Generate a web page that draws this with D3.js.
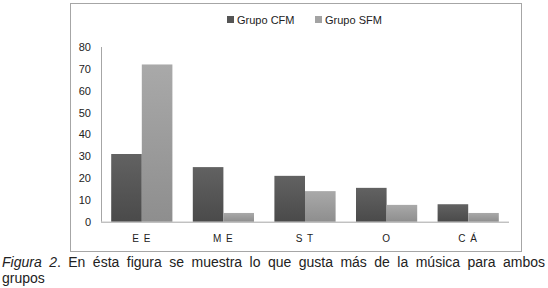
<!DOCTYPE html>
<html>
<head>
<meta charset="utf-8">
<script src="https://cdn.jsdelivr.net/npm/d3@7/dist/d3.min.js"></script>
<style>
  body { margin: 0; background: #fff; }
  #wrap { position: relative; width: 548px; height: 288px; }
  svg { position: absolute; left: 0; top: 0; }
  .caption { position: absolute; left: 2px; width: 543px; font-family: "Liberation Sans", Arial, sans-serif; font-size: 14px; color: #222; line-height: 16px; }
  .l1 { top: 254px; text-align: justify; text-align-last: justify; }
  .l2 { top: 270px; }
</style>
</head>
<body>
<div id="wrap">
  <div class="caption l1"><i>Figura 2</i>. En ésta figura se muestra lo que gusta más de la música para ambos</div>
  <div class="caption l2">grupos</div>
</div>
<script>
// datos
const categories = ["E E", "M E", "S T", "O", "C Á"];
const series = ["Grupo CFM", "Grupo SFM"];
const cfm = [31, 25, 21, 15.5, 8];
const sfm = [72, 4, 14, 7.7, 4];
const yTicks = [0, 10, 20, 30, 40, 50, 60, 70, 80];

const width = 548, height = 288;
const margin = {left: 101, right: 39, top: 47, bottom: 66};

const svg = d3.select("#wrap").append("svg")
    .attr("width", width)
    .attr("height", height);

const defs = svg.append("defs");
const grads = [["gCFM", "#626262", "#4a4a4a"], ["gSFM", "#a9a9a9", "#8e8e8e"]];
grads.forEach(([id, c1, c2]) => {
    const g = defs.append("linearGradient").attr("id", id)
        .attr("x1", 0).attr("y1", 0).attr("x2", 0).attr("y2", 1);
    g.append("stop").attr("offset", "0%").attr("stop-color", c1);
    g.append("stop").attr("offset", "100%").attr("stop-color", c2);
});

// marco exterior
svg.append("rect")
    .attr("x", 70.5).attr("y", 3.5)
    .attr("width", 451).attr("height", 248)
    .attr("fill", "none")
    .attr("stroke", "#a6a6a6");

const x = d3.scaleBand()
    .domain(categories)
    .range([margin.left, width - margin.right])
    .paddingInner(0.25)
    .paddingOuter(0.125);

const y = d3.scaleLinear()
    .domain([0, 80])
    .range([221.7, margin.top]);

const xSub = d3.scaleBand()
    .domain(series)
    .range([0, x.bandwidth()]);

// eje Y
svg.append("line")
    .attr("x1", margin.left + 0.5).attr("x2", margin.left + 0.5)
    .attr("y1", y(80)).attr("y2", y(0))
    .attr("stroke", "#a6a6a6");

svg.selectAll(".ytick")
    .data(yTicks)
    .join("text")
    .attr("class", "ytick")
    .attr("x", 91)
    .attr("y", d => y(d) + 4)
    .attr("text-anchor", "end")
    .attr("font-family", "Liberation Sans, Arial, sans-serif")
    .attr("font-size", 11)
    .attr("fill", "#222")
    .text(d => d);

// barras
const groups = svg.selectAll(".grp")
    .data(categories.map((c, i) => ({cat: c, vals: [cfm[i], sfm[i]]})))
    .join("g")
    .attr("class", "grp")
    .attr("transform", d => `translate(${x(d.cat)},0)`);

groups.selectAll("rect")
    .data(d => d.vals.map((v, j) => ({key: series[j], value: v})))
    .join("rect")
    .attr("x", d => xSub(d.key))
    .attr("y", d => y(d.value))
    .attr("width", xSub.bandwidth())
    .attr("height", d => y(0) - y(d.value))
    .attr("fill", (d, j) => j === 0 ? "url(#gCFM)" : "url(#gSFM)");

// linea base
svg.append("line")
    .attr("x1", margin.left).attr("x2", width - margin.right)
    .attr("y1", y(0) + 0.5).attr("y2", y(0) + 0.5)
    .attr("stroke", "#a6a6a6");

// etiquetas X
svg.selectAll(".xlab")
    .data(categories)
    .join("text")
    .attr("class", "xlab")
    .attr("x", d => x(d) + x.bandwidth() / 2)
    .attr("y", 242)
    .attr("text-anchor", "middle")
    .attr("font-family", "Liberation Sans, Arial, sans-serif")
    .attr("font-size", 10)
    .attr("letter-spacing", 1)
    .attr("fill", "#222")
    .text(d => d);

// leyenda
const legend = svg.append("g").attr("transform", "translate(227,16)");
const legX = [0, 88];
series.forEach((s, i) => {
    legend.append("rect")
        .attr("x", legX[i]).attr("y", 0)
        .attr("width", 7).attr("height", 7)
        .attr("fill", i === 0 ? "#555" : "#a3a3a3");
    legend.append("text")
        .attr("x", legX[i] + 10).attr("y", 8)
        .attr("font-family", "Liberation Sans, Arial, sans-serif")
        .attr("font-size", 11)
        .attr("fill", "#222")
        .text(s);
});
</script>
</body>
</html>
